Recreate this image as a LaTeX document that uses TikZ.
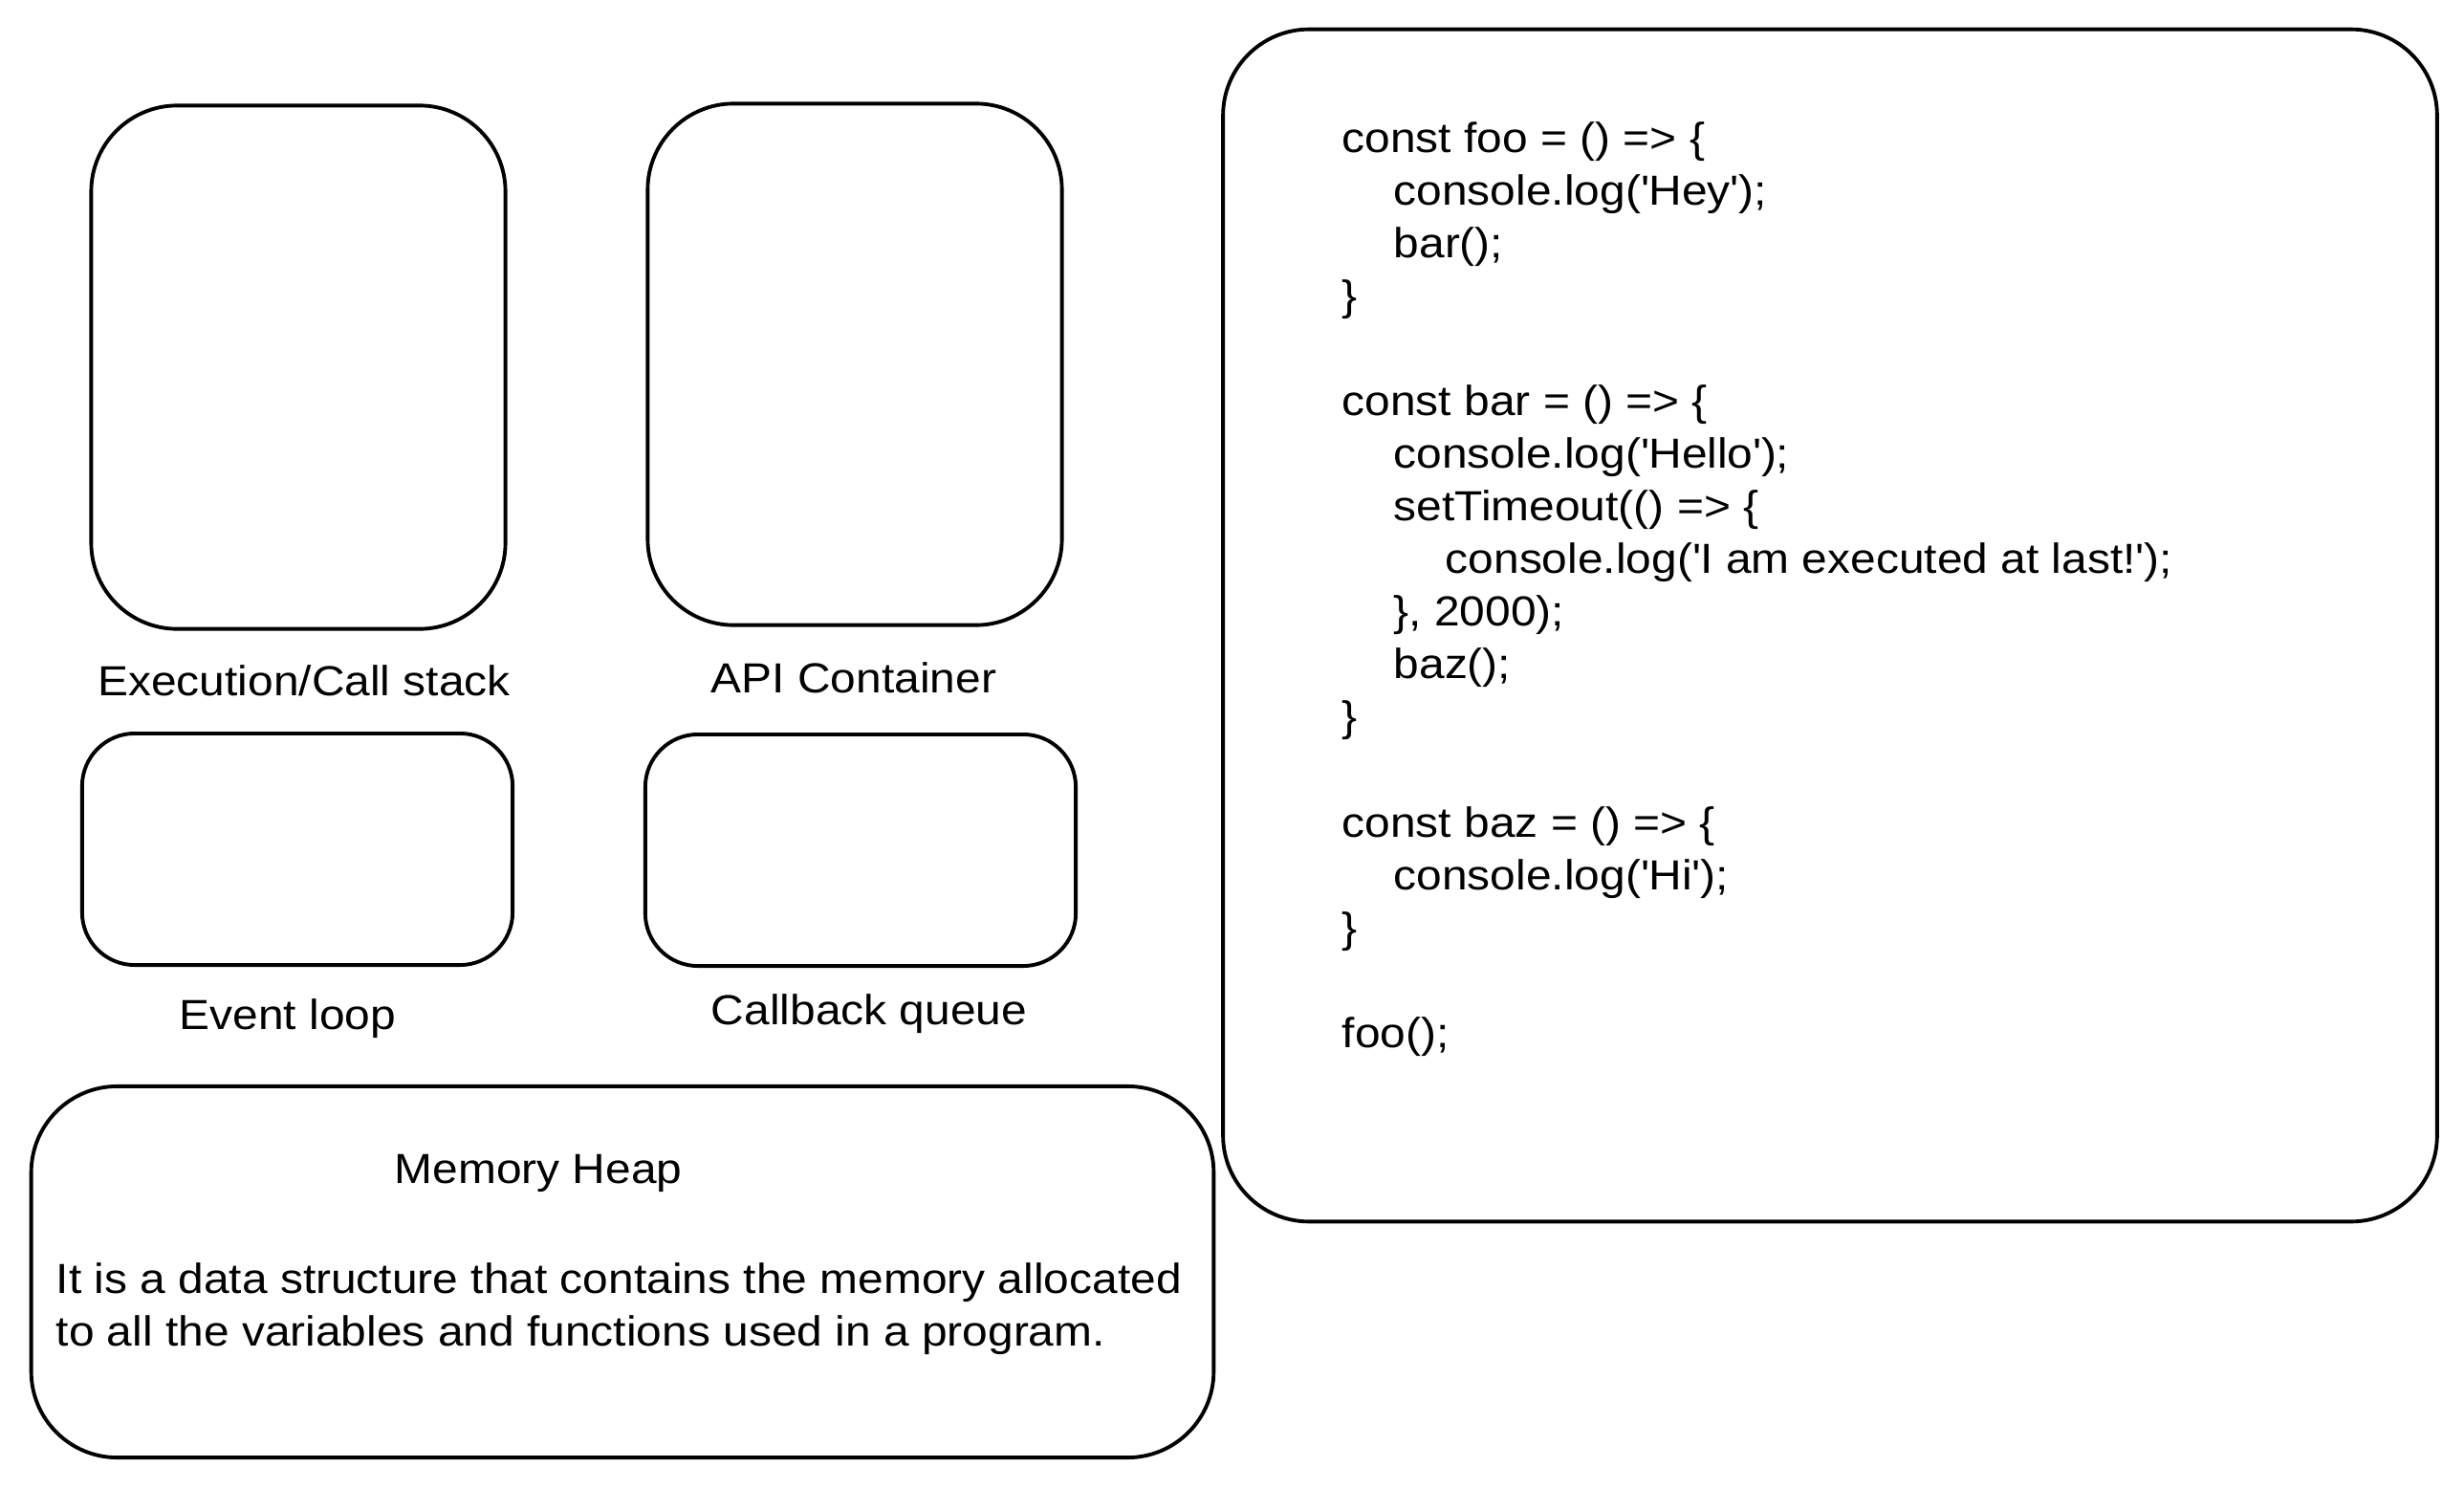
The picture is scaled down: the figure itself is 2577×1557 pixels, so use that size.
\documentclass[tikz,border=0pt]{standalone}
\usepackage{fontspec}
\setmainfont{Liberation Sans}[FakeStretch=1.09]
\usetikzlibrary{positioning}
\newcommand{\sq}{\textquotesingle}

\begin{document}
\begin{tikzpicture}[
        x=0.01cm, y=-0.01cm,
        box/.style={rectangle, draw, line width=1.1pt, rounded corners=0.9cm, inner sep=0pt},
        smallbox/.style={box, rounded corners=0.55cm},
        label/.style={inner sep=0pt, font=\fontsize{12.5pt}{15.65pt}\selectfont},
        code/.style={label, align=left, anchor=north west}
    ]
        \useasboundingbox (0,0) rectangle (2577,1557);

        % Boxes
        \node[box, minimum width=4.33cm, minimum height=5.47cm] (stack) at (312,384) {};
        \node[box, minimum width=4.33cm, minimum height=5.45cm] (api) at (894,381) {};
        \node[smallbox, minimum width=4.50cm, minimum height=2.42cm] (loop) at (311,888) {};
        \node[smallbox, minimum width=4.50cm, minimum height=2.42cm] (queue) at (900,889) {};
        \node[box, minimum width=12.36cm, minimum height=3.88cm] (heap) at (651,1330) {};
        \node[box, minimum width=12.69cm, minimum height=12.46cm] (codebox) at (1914,654) {};

        % Labels
        \node[label] (stacklabel) at (318,712) {Execution/Call stack};
        \node[label] (apilabel) at (893,709) {API Container};
        \node[label] (looplabel) at (301,1065) {Event loop};
        \node[label] (queuelabel) at (909,1060) {Callback queue};
        \node[label] (heaptitle) at (563,1227) {Memory Heap};
        \node[code] (heaptext) at (58,1320) {It is a data structure that contains the memory allocated\\
            to all the variables and functions used in a program.};

        % Code
        \node[code] (program) at (1403,127) {const foo = () => \{\\
            \hspace*{0.54cm}console.log(\sq Hey\sq);\\
            \hspace*{0.54cm}bar();\\
            \}\\
            \mbox{}\\
            const bar = () => \{\\
            \hspace*{0.54cm}console.log(\sq Hello\sq);\\
            \hspace*{0.54cm}setTimeout(() => \{\\
            \hspace*{1.08cm}console.log(\sq I am executed at last!\sq);\\
            \hspace*{0.54cm}\}, 2000);\\
            \hspace*{0.54cm}baz();\\
            \}\\
            \mbox{}\\
            const baz = () => \{\\
            \hspace*{0.54cm}console.log(\sq Hi\sq);\\
            \}\\
            \mbox{}\\
            foo();};
    \end{tikzpicture}
\end{document}
